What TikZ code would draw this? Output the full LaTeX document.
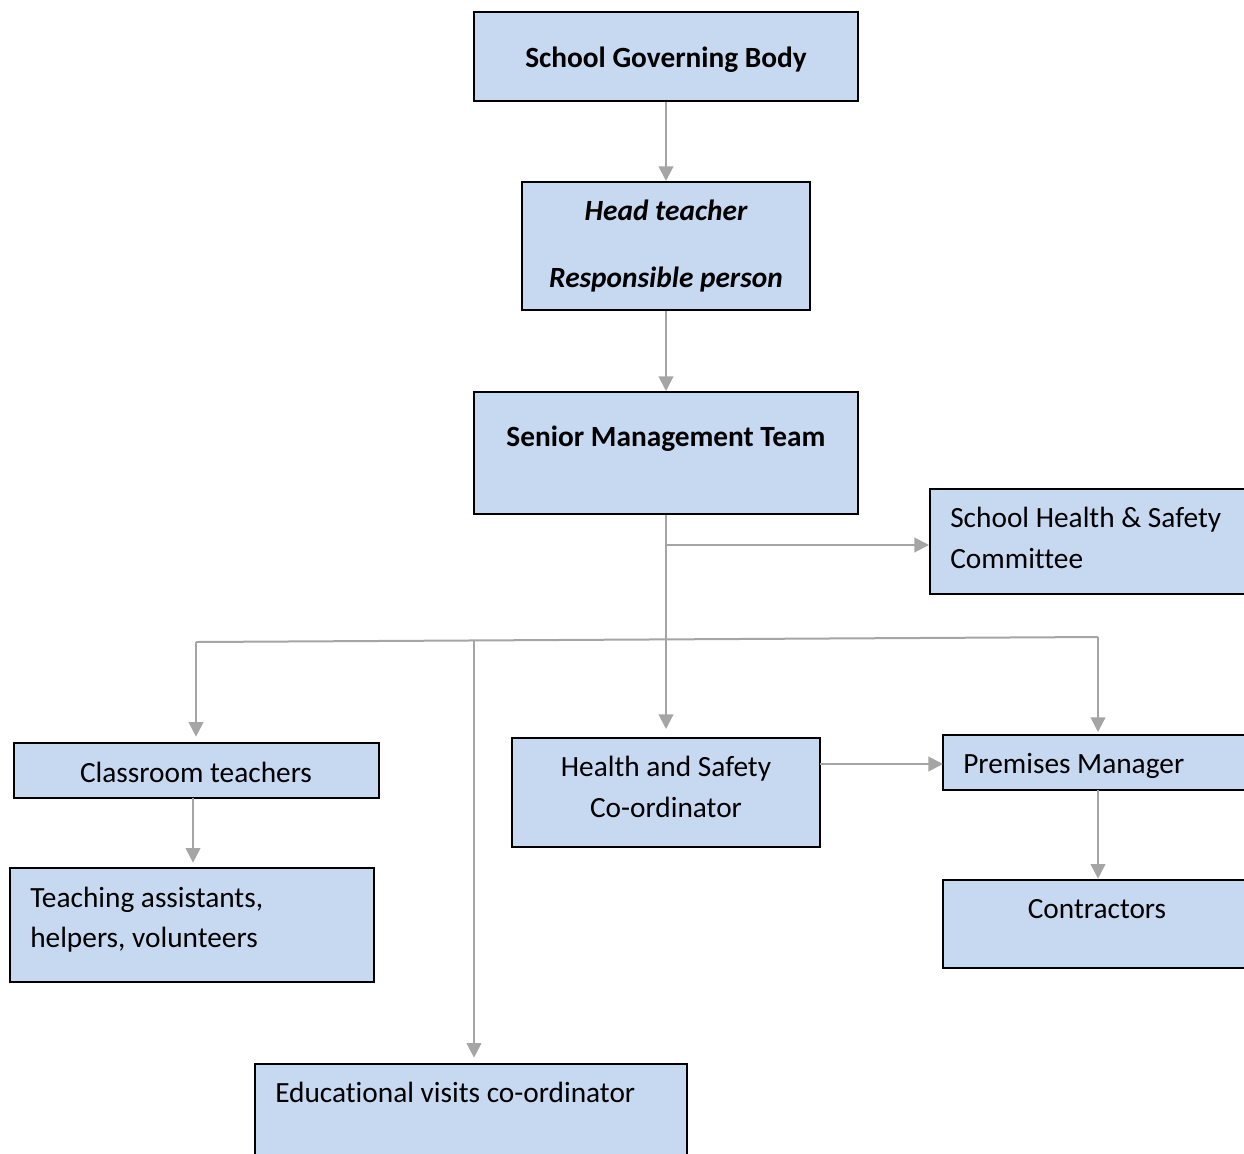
\documentclass[tikz,border=0pt]{standalone}
\usepackage{fontspec}
\setmainfont{Carlito}[Ligatures=NoCommon]
\usetikzlibrary{arrows.meta,fit}
\definecolor{boxfill}{HTML}{C6D9F1}
\definecolor{linegray}{HTML}{A5A5A5}
\tikzset{
  boxst/.style={draw=black, fill=boxfill, line width=1.5pt, inner sep=0pt, rectangle},
  txt/.style={inner sep=0pt, font=\fontsize{22pt}{30.75pt}\selectfont},
  conn/.style={draw=linegray, line width=1.5pt, -{Triangle[length=11pt,width=11pt]}},
  plain/.style={draw=linegray, line width=1.5pt}
}
\begin{document}
\begin{tikzpicture}[x=0.75pt,y=-0.75pt]
\useasboundingbox (0,0) rectangle (1244,1153);
\clip (0,0) rectangle (1244,1153);
% boxes
\node[boxst, fit={(474,12) (858,101)}] (sgb) {};
\node[boxst, fit={(522,182) (810,310)}] (head) {};
\node[boxst, fit={(474,392) (858,514)}] (smt) {};
\node[boxst, fit={(930,489) (1260,594)}] (shsc) {};
\node[boxst, fit={(14,743) (379,798)}] (cls) {};
\node[boxst, fit={(10,868) (374,982)}] (ta) {};
\node[boxst, fit={(512,738) (820,847)}] (hsc) {};
\node[boxst, fit={(943,735) (1260,790)}] (pm) {};
\node[boxst, fit={(943,880) (1260,968)}] (con) {};
\node[boxst, fit={(255,1064) (687,1170)}] (edu) {};
% texts
\node[txt, anchor=base, font=\fontsize{22pt}{30.75pt}\selectfont\bfseries] (sgbT) at (666,67) {School Governing Body};
\node[txt, anchor=base, font=\fontsize{22pt}{30.75pt}\selectfont\bfseries\itshape] (headT1) at (666,220) {Head teacher};
\node[txt, anchor=base, font=\fontsize{22pt}{30.75pt}\selectfont\bfseries\itshape] (headT2) at (666,287) {Responsible person};
\node[txt, anchor=base, font=\fontsize{22pt}{30.75pt}\selectfont\bfseries] (smtT) at (666,446) {Senior Management Team};
\node[txt, anchor=base west] (shscT1) at (950,527) {School Health \& Safety};
\node[txt, anchor=base west] (shscT2) at (950,568) {Committee};
\node[txt, anchor=base] (clsT) at (196,782) {Classroom teachers};
\node[txt, anchor=base west] (taT1) at (30,907) {Teaching assistants,};
\node[txt, anchor=base west] (taT2) at (30,947) {helpers, volunteers};
\node[txt, anchor=base] (hscT1) at (666,776) {Health and Safety};
\node[txt, anchor=base] (hscT2) at (666,817) {Co-ordinator};
\node[txt, anchor=base west] (pmT) at (963,773) {Premises Manager};
\node[txt, anchor=base] (conT) at (1097,918) {Contractors};
\node[txt, anchor=base west] (eduT) at (275,1102) {Educational visits co-ordinator};
% junctions
\coordinate (j1) at (666,545);
\coordinate (jl) at (196,642);
\coordinate (je) at (474,641);
\coordinate (jr) at (1098,637);
\coordinate (ctBot) at (193,798);
\coordinate (ctTop) at (193,868);
\coordinate (hsR) at (820,764);
\coordinate (pmL) at (943,764);
\coordinate (pmB) at (1098,790);
\coordinate (conTop) at (1098,880);
% connectors
\draw[conn] (sgb.south) -- (head.north);
\draw[conn] (head.south) -- (smt.north);
\draw[conn, shorten >=6pt] (smt.south) -- (hsc.north);
\draw[conn] (j1) -- (j1 -| shsc.west);
\draw[plain] (jl) -- (jr);
\draw[conn, shorten >=4pt] (jl) -- (jl |- cls.north);
\draw[conn, shorten >=4pt] (je) -- (je |- edu.north);
\draw[conn, shorten >=1.5pt] (jr) -- (jr |- pm.north);
\draw[conn, shorten >=4pt] (ctBot) -- (ctTop);
\draw[conn] (hsR) -- (pmL);
\draw[conn, shorten >=1pt] (pmB) -- (conTop);
\end{tikzpicture}
\end{document}
